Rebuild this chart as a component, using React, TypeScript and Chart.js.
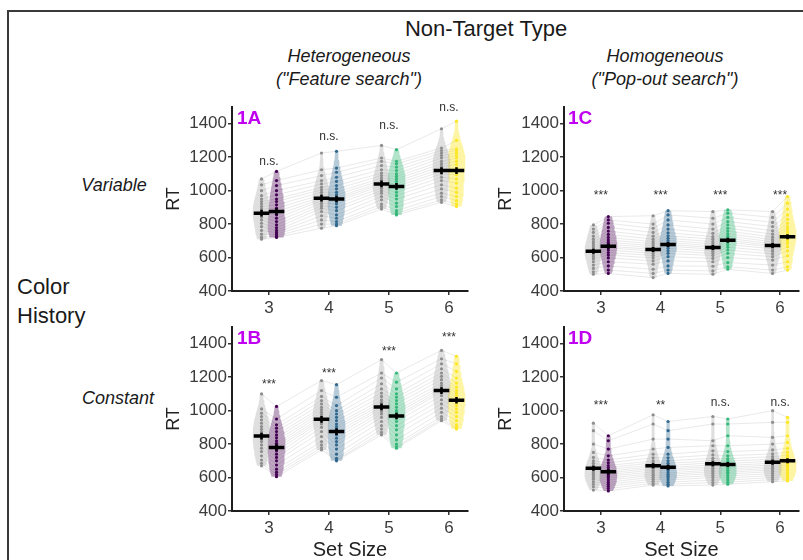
import React, { useEffect, useRef } from 'react';
import { Chart, registerables } from 'chart.js';

Chart.register(...registerables);
Chart.defaults.font.family = '"Liberation Sans", Arial, sans-serif';

// ---------- categories / ticks ----------
const SET_SIZES = [3, 4, 5, 6];
const Y_TICKS = [400, 600, 800, 1000, 1200, 1400];
const SIZE_COLORS = ['#440154', '#31688E', '#35B779', '#FDE725'];
const SIZE_FILLS = ['rgba(68,1,84,0.35)', 'rgba(49,104,142,0.35)', 'rgba(53,183,121,0.38)', 'rgba(253,231,37,0.42)'];
const GRAY_POINT = '#8e8e8e';
const GRAY_FILL = 'rgba(170,170,170,0.38)';

// ---------- Panel 1A: Heterogeneous / Variable ----------
const A_GRAY_3 = [710, 722, 740, 762, 785, 805, 825, 842, 858, 868, 878, 890, 905, 920, 935, 950, 970, 1000, 1035, 1070];
const A_COLOR_3 = [720, 728, 738, 750, 762, 778, 795, 815, 835, 855, 875, 895, 915, 935, 950, 975, 1000, 1030, 1060, 1115];
const A_GRAY_4 = [775, 800, 825, 850, 875, 895, 910, 925, 940, 950, 962, 975, 990, 1005, 1020, 1040, 1060, 1090, 1125, 1225];
const A_COLOR_4 = [790, 800, 815, 835, 855, 880, 900, 920, 935, 948, 960, 975, 990, 1010, 1030, 1055, 1080, 1110, 1135, 1235];
const A_GRAY_5 = [890, 905, 920, 945, 965, 985, 1000, 1015, 1030, 1040, 1050, 1062, 1075, 1090, 1105, 1125, 1150, 1175, 1195, 1270];
const A_COLOR_5 = [855, 865, 880, 905, 925, 950, 970, 990, 1010, 1025, 1040, 1055, 1070, 1085, 1100, 1120, 1140, 1160, 1175, 1245];
const A_GRAY_6 = [930, 945, 965, 985, 1010, 1035, 1060, 1080, 1100, 1115, 1130, 1145, 1160, 1175, 1195, 1210, 1225, 1240, 1255, 1370];
const A_COLOR_6 = [905, 920, 940, 965, 990, 1015, 1045, 1070, 1095, 1115, 1135, 1155, 1175, 1195, 1210, 1225, 1240, 1250, 1300, 1415];
const A_MEAN_GRAY = [865, 955, 1040, 1120];
const A_MEAN_COLOR = [875, 950, 1025, 1120];
const A_SIG = ['n.s.', 'n.s.', 'n.s.', 'n.s.'];
const A_SIG_Y = [1172, 1322, 1388, 1496];

// ---------- Panel 1B: Heterogeneous / Constant ----------
const B_GRAY_3 = [670, 685, 705, 730, 755, 775, 795, 815, 830, 845, 858, 872, 888, 905, 925, 945, 965, 985, 1010, 1100];
const B_COLOR_3 = [605, 618, 632, 650, 675, 700, 720, 740, 760, 775, 790, 805, 820, 838, 855, 875, 895, 915, 950, 1025];
const B_GRAY_4 = [765, 778, 795, 815, 845, 875, 900, 920, 935, 948, 960, 975, 990, 1005, 1020, 1040, 1060, 1085, 1120, 1180];
const B_COLOR_4 = [700, 705, 715, 740, 770, 795, 815, 835, 855, 872, 890, 905, 920, 940, 960, 980, 1000, 1030, 1080, 1155];
const B_GRAY_5 = [855, 870, 890, 910, 935, 960, 980, 995, 1010, 1022, 1035, 1050, 1065, 1085, 1105, 1130, 1160, 1195, 1225, 1305];
const B_COLOR_5 = [775, 785, 800, 825, 855, 885, 910, 935, 955, 968, 985, 1000, 1020, 1040, 1060, 1080, 1100, 1130, 1170, 1225];
const B_GRAY_6 = [940, 950, 965, 990, 1015, 1040, 1065, 1090, 1110, 1122, 1135, 1150, 1165, 1185, 1205, 1225, 1250, 1280, 1310, 1360];
const B_COLOR_6 = [890, 900, 915, 940, 965, 990, 1010, 1030, 1048, 1062, 1075, 1090, 1105, 1120, 1140, 1165, 1195, 1235, 1280, 1325];
const B_MEAN_GRAY = [848, 948, 1022, 1120];
const B_MEAN_COLOR = [780, 875, 968, 1062];
const B_SIG = ['***', '***', '***', '***'];
const B_SIG_Y = [1172, 1238, 1370, 1454];

// ---------- Panel 1C: Homogeneous / Variable ----------
const C_GRAY_3 = [500, 515, 535, 555, 575, 592, 605, 618, 628, 638, 648, 658, 670, 682, 695, 710, 728, 750, 770, 795];
const C_COLOR_3 = [505, 525, 550, 575, 598, 615, 630, 645, 658, 668, 680, 692, 705, 720, 738, 758, 780, 805, 825, 845];
const C_GRAY_4 = [480, 505, 530, 560, 580, 598, 612, 625, 638, 648, 658, 670, 682, 695, 710, 728, 750, 775, 800, 850];
const C_COLOR_4 = [505, 525, 550, 580, 605, 625, 640, 655, 668, 678, 690, 702, 715, 730, 748, 770, 795, 825, 855, 880];
const C_GRAY_5 = [500, 520, 548, 575, 595, 612, 625, 638, 650, 660, 670, 682, 695, 710, 725, 745, 770, 800, 835, 875];
const C_COLOR_5 = [530, 545, 570, 600, 625, 645, 662, 678, 692, 703, 715, 728, 742, 758, 775, 795, 815, 840, 865, 885];
const C_GRAY_6 = [505, 525, 555, 585, 605, 622, 638, 652, 663, 672, 682, 694, 707, 722, 740, 760, 785, 810, 840, 875];
const C_COLOR_6 = [525, 545, 575, 610, 640, 665, 685, 700, 713, 725, 738, 752, 768, 785, 805, 828, 855, 890, 925, 965];
const C_MEAN_GRAY = [638, 648, 660, 672];
const C_MEAN_COLOR = [668, 678, 703, 725];
const C_SIG = ['***', '***', '***', '***'];
const C_SIG_Y = [989, 989, 989, 989];

// ---------- Panel 1D: Homogeneous / Constant ----------
const D_GRAY_3 = [525, 545, 560, 575, 590, 600, 610, 620, 630, 640, 650, 660, 672, 685, 700, 720, 750, 800, 880, 925];
const D_COLOR_3 = [520, 535, 548, 560, 572, 585, 597, 608, 618, 628, 638, 648, 660, 672, 688, 705, 730, 770, 820, 850];
const D_GRAY_4 = [555, 565, 578, 590, 602, 613, 623, 634, 645, 655, 665, 676, 688, 700, 718, 740, 770, 830, 920, 975];
const D_COLOR_4 = [550, 560, 572, 585, 597, 608, 618, 628, 640, 650, 660, 672, 685, 700, 718, 740, 780, 830, 880, 935];
const D_GRAY_5 = [555, 570, 585, 600, 612, 624, 635, 645, 656, 666, 676, 688, 700, 715, 735, 760, 790, 820, 920, 965];
const D_COLOR_5 = [560, 572, 585, 598, 610, 622, 632, 642, 652, 662, 672, 684, 698, 712, 730, 755, 790, 850, 920, 950];
const D_GRAY_6 = [575, 588, 600, 612, 624, 635, 645, 655, 665, 675, 686, 698, 710, 725, 742, 765, 800, 840, 930, 1000];
const D_COLOR_6 = [580, 592, 605, 618, 630, 642, 653, 664, 674, 684, 695, 707, 720, 735, 752, 775, 810, 850, 930, 960];
const D_MEAN_GRAY = [655, 670, 682, 692];
const D_MEAN_COLOR = [635, 662, 678, 700];
const D_SIG = ['***', '**', 'n.s.', 'n.s.'];
const D_SIG_Y = [1045, 1045, 1045, 1045];

const SE_AB = 20;
const SE_CD = 15;

type PanelData = {
  label: string;
  gray: number[][];
  color: number[][];
  meanGray: number[];
  meanColor: number[];
  se: number;
  sig: string[];
  sigY: number[];
};

const PANEL_A: PanelData = { label: '1A', gray: [A_GRAY_3, A_GRAY_4, A_GRAY_5, A_GRAY_6], color: [A_COLOR_3, A_COLOR_4, A_COLOR_5, A_COLOR_6], meanGray: A_MEAN_GRAY, meanColor: A_MEAN_COLOR, se: SE_AB, sig: A_SIG, sigY: A_SIG_Y };
const PANEL_B: PanelData = { label: '1B', gray: [B_GRAY_3, B_GRAY_4, B_GRAY_5, B_GRAY_6], color: [B_COLOR_3, B_COLOR_4, B_COLOR_5, B_COLOR_6], meanGray: B_MEAN_GRAY, meanColor: B_MEAN_COLOR, se: SE_AB, sig: B_SIG, sigY: B_SIG_Y };
const PANEL_C: PanelData = { label: '1C', gray: [C_GRAY_3, C_GRAY_4, C_GRAY_5, C_GRAY_6], color: [C_COLOR_3, C_COLOR_4, C_COLOR_5, C_COLOR_6], meanGray: C_MEAN_GRAY, meanColor: C_MEAN_COLOR, se: SE_CD, sig: C_SIG, sigY: C_SIG_Y };
const PANEL_D: PanelData = { label: '1D', gray: [D_GRAY_3, D_GRAY_4, D_GRAY_5, D_GRAY_6], color: [D_COLOR_3, D_COLOR_4, D_COLOR_5, D_COLOR_6], meanGray: D_MEAN_GRAY, meanColor: D_MEAN_COLOR, se: SE_CD, sig: D_SIG, sigY: D_SIG_Y };

const DODGE = 0.125;
const VIOLIN_HALF = 0.15;
const BAR_HALF = 0.13;

function violinOutline(vals: number[], center: number, halfWidth: number) {
  const n = vals.length;
  const mean = vals.reduce((a, b) => a + b, 0) / n;
  const sd = Math.sqrt(vals.reduce((a, b) => a + (b - mean) * (b - mean), 0) / (n - 1));
  const sorted = [...vals].sort((a, b) => a - b);
  const q = (p: number) => {
    const i = p * (n - 1);
    const lo = Math.floor(i);
    const hi = Math.min(lo + 1, n - 1);
    return sorted[lo] + (sorted[hi] - sorted[lo]) * (i - lo);
  };
  const iqr = q(0.75) - q(0.25);
  const bw = 0.9 * Math.min(sd, iqr / 1.34) * Math.pow(n, -0.2);
  const lo = sorted[0];
  const hi = sorted[n - 1];
  const steps = 60;
  const ys: number[] = [];
  const ds: number[] = [];
  for (let i = 0; i <= steps; i++) {
    const y = lo + ((hi - lo) * i) / steps;
    let d = 0;
    for (const v of vals) {
      const z = (y - v) / bw;
      d += Math.exp(-0.5 * z * z);
    }
    ys.push(y);
    ds.push(d);
  }
  const maxD = Math.max(...ds);
  const right = ys.map((y, i) => ({ x: center + (halfWidth * ds[i]) / maxD, y }));
  const left = ys.map((y, i) => ({ x: center - (halfWidth * ds[i]) / maxD, y })).reverse();
  return [...right, ...left];
}

function buildDatasets(p: PanelData) {
  const ds: any[] = [];
  const nSub = p.gray[0].length;
  // per-subject connecting lines
  for (let i = 0; i < nSub; i++) {
    const data: any[] = [];
    SET_SIZES.forEach((s, k) => {
      data.push({ x: s - DODGE, y: p.gray[k][i] });
      data.push({ x: s + DODGE, y: p.color[k][i] });
    });
    ds.push({ type: 'line', data, borderColor: 'rgba(170,170,170,0.26)', borderWidth: 1, pointRadius: 0, fill: false, order: 6 });
  }
  // violins
  SET_SIZES.forEach((s, k) => {
    ds.push({ type: 'line', data: violinOutline(p.gray[k], s - DODGE, VIOLIN_HALF), fill: 'shape', backgroundColor: GRAY_FILL, borderColor: 'rgba(0,0,0,0)', borderWidth: 0, pointRadius: 0, order: 5 });
    ds.push({ type: 'line', data: violinOutline(p.color[k], s + DODGE, VIOLIN_HALF), fill: 'shape', backgroundColor: SIZE_FILLS[k], borderColor: 'rgba(0,0,0,0)', borderWidth: 0, pointRadius: 0, order: 5 });
  });
  // points
  SET_SIZES.forEach((s, k) => {
    ds.push({ type: 'line', showLine: false, data: p.gray[k].map((v) => ({ x: s - DODGE, y: v })), pointRadius: 1.6, pointBackgroundColor: GRAY_POINT, pointBorderWidth: 0, order: 4 });
    ds.push({ type: 'line', showLine: false, data: p.color[k].map((v) => ({ x: s + DODGE, y: v })), pointRadius: 1.6, pointBackgroundColor: SIZE_COLORS[k], pointBorderWidth: 0, order: 4 });
  });
  // mean bars and error bars
  const bars: any[] = [];
  const errs: any[] = [];
  SET_SIZES.forEach((s, k) => {
    const pairs: [number, number][] = [[s - DODGE, p.meanGray[k]], [s + DODGE, p.meanColor[k]]];
    pairs.forEach(([x, m]) => {
      bars.push({ x: x - BAR_HALF, y: m }, { x: x + BAR_HALF, y: m }, { x, y: null });
      errs.push({ x, y: m - p.se }, { x, y: m + p.se }, { x, y: null });
    });
  });
  ds.push({ type: 'line', data: errs, borderColor: '#000', borderWidth: 2.5, pointRadius: 0, spanGaps: false, order: 2 });
  ds.push({ type: 'line', data: bars, borderColor: '#000', borderWidth: 3.5, pointRadius: 0, spanGaps: false, order: 1 });
  return ds;
}

const sigPlugin = {
  id: 'sigLabels',
  afterDatasetsDraw(chart: any, _args: any, opts: any) {
    const { ctx, scales } = chart;
    const xs = scales.x;
    const ys = scales.y;
    ctx.save();
    ctx.font = '12px "Liberation Sans", Arial, sans-serif';
    ctx.fillStyle = '#333';
    ctx.textAlign = 'center';
    ctx.textBaseline = 'middle';
    (opts.labels || []).forEach((t: string, i: number) => {
      const px = xs.getPixelForValue(SET_SIZES[i]);
      const py = ys.getPixelForValue(opts.ys[i]);
      ctx.fillText(t, px, py + (t.startsWith('*') ? 3 : 0));
    });
    ctx.restore();
  },
};

type PanelProps = { data: PanelData; left: number; top: number; width: number; height: number; padRight: number; bottom: boolean };

function Panel({ data, left, top, width, height, padRight, bottom }: PanelProps) {
  const ref = useRef<HTMLCanvasElement>(null);
  useEffect(() => {
    if (!ref.current) return;
    const areaH = 184;
    const padTop = 12;
    const xH = height - padTop - areaH;
    const chart = new Chart(ref.current, {
      type: 'line',
      data: { datasets: buildDatasets(data) },
      plugins: [sigPlugin],
      options: {
        animation: false,
        responsive: false,
        devicePixelRatio: 1,
        events: [],
        layout: { padding: { left: 0, top: padTop, right: padRight, bottom: 0 } },
        plugins: {
          legend: { display: false },
          tooltip: { enabled: false },
          sigLabels: { labels: data.sig, ys: data.sigY },
        } as any,
        scales: {
          x: {
            type: 'linear',
            min: 2.383,
            max: 6.317,
            afterBuildTicks: (s: any) => { s.ticks = SET_SIZES.map((v) => ({ value: v })); },
            afterFit: (s: any) => { s.height = xH; },
            ticks: { font: { size: 17 }, color: '#3c3c3c', padding: 3, maxRotation: 0, autoSkip: false, callback: (v: any) => String(v) },
            grid: { display: true, drawOnChartArea: false, drawTicks: true, tickLength: 4, color: '#333', lineWidth: 1.5 },
            border: { display: true, color: '#1e1e1e', width: 2 },
            title: bottom
              ? { display: true, text: 'Set Size', font: { size: 20, lineHeight: 1 }, color: '#222', padding: { top: 0, bottom: 0 } }
              : { display: false },
          },
          y: {
            type: 'linear',
            min: 400,
            max: 1500,
            afterBuildTicks: (s: any) => { s.ticks = Y_TICKS.map((v) => ({ value: v })); },
            afterFit: (s: any) => { s.width = 72; },
            ticks: { font: { size: 17 }, color: '#3c3c3c', padding: 1, callback: (v: any) => String(v) },
            grid: { display: true, drawOnChartArea: false, drawTicks: true, tickLength: 4, color: '#333', lineWidth: 1.5 },
            border: { display: true, color: '#1e1e1e', width: 2 },
            title: { display: true, text: 'RT', font: { size: 18, lineHeight: 1.2 }, color: '#222', padding: { top: 3, bottom: 0 } },
          },
        },
      } as any,
    });
    return () => chart.destroy();
  }, []);
  return (
    <canvas
      ref={ref}
      width={width}
      height={height}
      style={{ position: 'absolute', left, top, width, height }}
    />
  );
}

const txt = (extra: React.CSSProperties): React.CSSProperties => ({
  position: 'absolute',
  whiteSpace: 'nowrap',
  color: '#1a1a1a',
  fontFamily: '"Liberation Sans", Arial, sans-serif',
  lineHeight: 1,
  ...extra,
});

const centered = (x: number, y: number, extra: React.CSSProperties) =>
  txt({ left: x, top: y, transform: 'translate(-50%, -50%)', ...extra });

export default function App() {
  return (
    <div style={{ position: 'fixed', left: 0, top: 0, width: 803, height: 560, background: '#fff', overflow: 'hidden' }}>
      <div style={{ position: 'absolute', left: 7, top: 10, width: 820, height: 600, borderTop: '2px solid #3a3a3a', borderLeft: '2px solid #3a3a3a' }} />

      <div style={centered(486, 29, { fontSize: 22 })}>Non-Target Type</div>
      <div style={centered(349, 56, { fontSize: 18, fontStyle: 'italic' })}>Heterogeneous</div>
      <div style={centered(349, 79, { fontSize: 18, fontStyle: 'italic' })}>("Feature search")</div>
      <div style={centered(665, 56, { fontSize: 18, fontStyle: 'italic' })}>Homogeneous</div>
      <div style={centered(665, 79, { fontSize: 18, fontStyle: 'italic' })}>("Pop-out search")</div>

      <div style={centered(114, 185, { fontSize: 18, fontStyle: 'italic' })}>Variable</div>
      <div style={centered(118, 398, { fontSize: 18, fontStyle: 'italic' })}>Constant</div>
      <div style={txt({ left: 17, top: 276, fontSize: 22 })}>Color</div>
      <div style={txt({ left: 17, top: 305, fontSize: 22 })}>History</div>

      <Panel data={PANEL_A} left={160} top={95} width={320} height={225} padRight={12} bottom={false} />
      <Panel data={PANEL_B} left={160} top={315} width={320} height={245} padRight={12} bottom={true} />
      <Panel data={PANEL_C} left={492} top={95} width={311} height={225} padRight={3} bottom={false} />
      <Panel data={PANEL_D} left={492} top={315} width={311} height={245} padRight={3} bottom={true} />

      <div style={txt({ left: 237, top: 108, fontSize: 19, fontWeight: 'bold', color: '#c000f0' })}>1A</div>
      <div style={txt({ left: 237, top: 328, fontSize: 19, fontWeight: 'bold', color: '#c000f0' })}>1B</div>
      <div style={txt({ left: 568, top: 108, fontSize: 19, fontWeight: 'bold', color: '#c000f0' })}>1C</div>
      <div style={txt({ left: 568, top: 328, fontSize: 19, fontWeight: 'bold', color: '#c000f0' })}>1D</div>
    </div>
  );
}
